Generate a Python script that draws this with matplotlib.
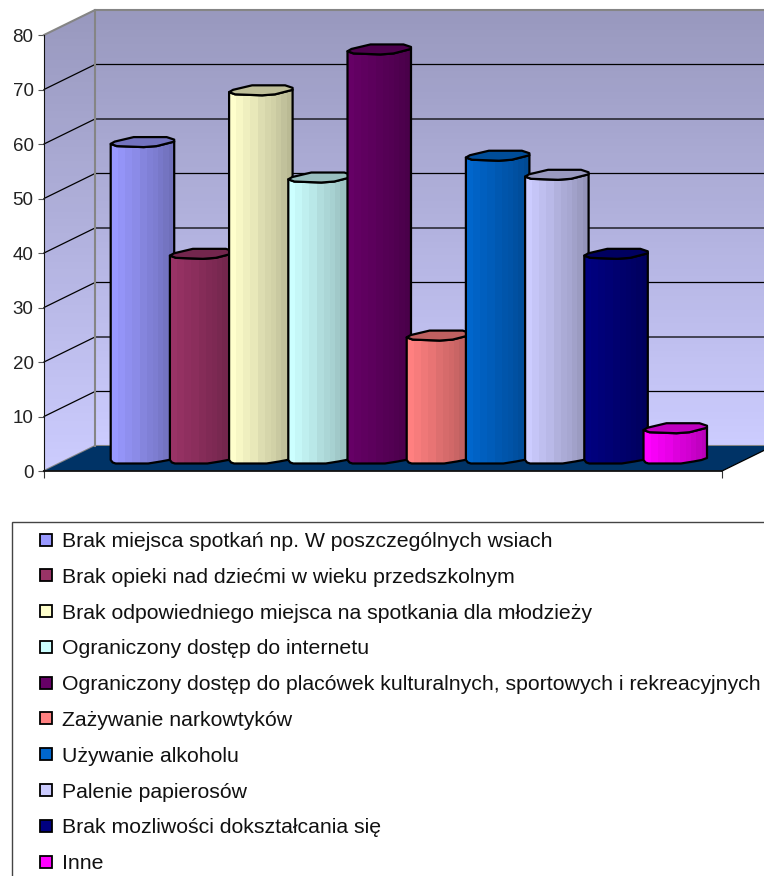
import matplotlib
matplotlib.use("Agg")
import matplotlib.pyplot as plt
import numpy as np
from matplotlib.legend_handler import HandlerPatch
from matplotlib.patches import Patch, Polygon, Rectangle
from matplotlib.colors import to_rgb

plt.rcParams['font.family'] = ['Liberation Sans', 'DejaVu Sans']

categorias = [
  "Brak miejsca spotkań np. W poszczególnych wsiach",
  "Brak opieki nad dziećmi w wieku przedszkolnym",
  "Brak odpowiedniego miejsca na spotkania dla młodzieży",
  "Ograniczony dostęp do internetu",
  "Ograniczony dostęp do placówek kulturalnych, sportowych i rekreacyjnych",
  "Zażywanie narkowtyków",
  "Używanie alkoholu",
  "Palenie papierosów",
  "Brak mozliwości dokształcania się",
  "Inne",
]
valores = [58, 37.5, 67.5, 51.5, 75, 22.5, 55.5, 52, 37.5, 5.5]
colores = ["#9999FF", "#993366", "#FFFFCC", "#CCFFFF", "#660066",
           "#FF8080", "#0066CC", "#CCCCFF", "#000080", "#FF00FF"]
ticks_y = [0, 10, 20, 30, 40, 50, 60, 70, 80]

W, H = 764, 876
fig = plt.figure(figsize=(W / 100, H / 100), dpi=100, facecolor="white")
# plano frontal del grafico 3D: x 44..722 px, y 35..471 px
ax = fig.add_axes([44 / W, 1 - 471 / H, 678 / W, 436 / H])
ax.set_facecolor("none")
PX = 10 / 678
PY = 80 / 436
FONDO_X = 51 * PX
FONDO_Y = 25 * PY


def recortar(im, puntos):
  # la imagen solo se ve dentro del poligono, aunque salga de los ejes
  im.set_clip_path(Polygon(puntos, transform=ax.transData))
  im.set_clip_box(fig.bbox)


def degradado(puntos, arriba, abajo, y0, y1, zorder):
  a, b = np.array(to_rgb(arriba)), np.array(to_rgb(abajo))
  t = np.linspace(0, 1, 64)[:, None, None]
  img = a * (1 - t) + b * t
  xs = [p[0] for p in puntos]
  im = ax.imshow(img, extent=(min(xs), max(xs), y0, y1), origin="upper",
                 aspect="auto", zorder=zorder)
  recortar(im, puntos)


# paredes y suelo
tope = 80 + FONDO_Y
fondo_der = 10 + FONDO_X
pared_fondo = [(FONDO_X, FONDO_Y), (fondo_der, FONDO_Y), (fondo_der, tope), (FONDO_X, tope)]
pared_izq = [(0, 0), (FONDO_X, FONDO_Y), (FONDO_X, tope), (0, 80)]
degradado(pared_fondo, "#9999BE", "#CCCCFF", FONDO_Y, tope, 1)
degradado(pared_izq, "#9999BE", "#CCCCFF", 0, tope, 1)
ax.add_patch(Polygon([(0, 0), (10, 0), (fondo_der, FONDO_Y), (FONDO_X, FONDO_Y)],
                     facecolor="#003366", edgecolor="none", zorder=2, clip_on=False))

for v in ticks_y[1:-1]:
  ax.plot([0, FONDO_X, fondo_der], [v, v + FONDO_Y, v + FONDO_Y], color="black",
          lw=0.9, zorder=3, clip_on=False)

gris = "#858585"
ax.plot([0, FONDO_X, fondo_der], [80, tope, tope], color=gris, lw=1.5, zorder=3, clip_on=False)
ax.plot([FONDO_X, FONDO_X], [FONDO_Y, tope], color=gris, lw=1.5, zorder=3, clip_on=False)
ax.plot([0, FONDO_X, fondo_der], [0, FONDO_Y, FONDO_Y], color=gris, lw=1.5, zorder=1.5, clip_on=False)
ax.plot([10, fondo_der], [0, FONDO_Y], color="black", lw=0.9, zorder=3, clip_on=False)

# contorno de las columnas, en pixeles respecto a la esquina izquierda
ancho = 63.5
paso = 59.2
x_inicio = (110.7 - 44) * PX
base_y = 11 * PY
abajo_px = [(0, 0), (2, 2.5), (5, 3.5), (37.5, 3.5), (50, 1.5), (58, 0), (ancho, -2)]
frente_px = [(0, 0), (6, 2.2), (33, 3.2), (46, 2.2), (ancho, -2.3)]
atras_px = [(ancho, -4.3), (56, -6.8), (23, -6.8), (4, -2.3)]
# franjas de sombra: cuantos pixeles mide cada una y cuanto oscurece
franjas = [7, 7, 7, 8, 7, 6, 5, 5, 6, 6]
niveles = [1.0, 0.97, 0.94, 0.91, 0.87, 0.84, 0.82, 0.79, 0.76, 0.73]

for i, (v, c) in enumerate(zip(valores, colores)):
  x0 = x_inicio + i * paso * PX
  y_top = base_y + v
  z = 10 + i
  lado = [(x0 + a * PX, y_top - b * PY) for a, b in frente_px]
  lado += [(x0 + a * PX, base_y - b * PY) for a, b in reversed(abajo_px)]
  rgb = np.array(to_rgb(c))
  tira = np.repeat(np.array([[rgb * n for n in niveles]]), franjas, axis=1)
  im = ax.imshow(tira, extent=(x0, x0 + ancho * PX, base_y - 4 * PY, y_top + 8 * PY),
                 aspect="auto", zorder=z, interpolation="nearest")
  recortar(im, lado)
  ax.add_patch(Polygon(lado, closed=True, fill=False, edgecolor="black", lw=1.6,
                       joinstyle="round", zorder=z + 0.2, clip_on=False))
  tapa = [(x0 + a * PX, y_top - b * PY) for a, b in frente_px + atras_px]
  ax.add_patch(Polygon(tapa, closed=True, facecolor=rgb * 0.75, edgecolor="black", lw=1.6,
                       joinstyle="round", zorder=z + 0.4, clip_on=False))

ax.set_xlim(0, 10)
ax.set_ylim(0, 80)
for s in ["top", "right"]:
  ax.spines[s].set_visible(False)
ax.spines["left"].set_color("#111111")
ax.spines["bottom"].set_color("#111111")
ax.spines["left"].set_zorder(4)
ax.spines["bottom"].set_zorder(30)
ax.spines["bottom"].set_linewidth(1.3)
ax.set_yticks(ticks_y)
ax.set_xticks([0, 10])
ax.set_xticklabels([])
ax.tick_params(axis="y", length=4.5, width=0.8, color="#555555", labelsize=13.5,
               labelcolor="#222222", pad=3)
ax.tick_params(axis="x", length=5, width=0.8, color="#333333")


def cuadro(legend, orig_handle, xdescent, ydescent, width, height, fontsize):
  # cuadradito pegado a la derecha del hueco de la leyenda
  lado = 12 * 0.72
  return Rectangle((width - lado, (height - lado) / 2 - ydescent), lado, lado)


handles = [Patch(facecolor=c, edgecolor="black", lw=1.3) for c in colores]
fig.legend(handles, categorias, loc="upper left",
           bbox_to_anchor=(12 / W, 1 - 522 / H), borderaxespad=0,
           fontsize=15.3, frameon=True, fancybox=False, framealpha=1,
           edgecolor="#444444", borderpad=0.47, handlelength=1.42,
           handletextpad=0.47, labelspacing=0.79, labelcolor="#111111",
           handler_map={Patch: HandlerPatch(patch_func=cuadro)})

fig.savefig("out.png", dpi=100)
